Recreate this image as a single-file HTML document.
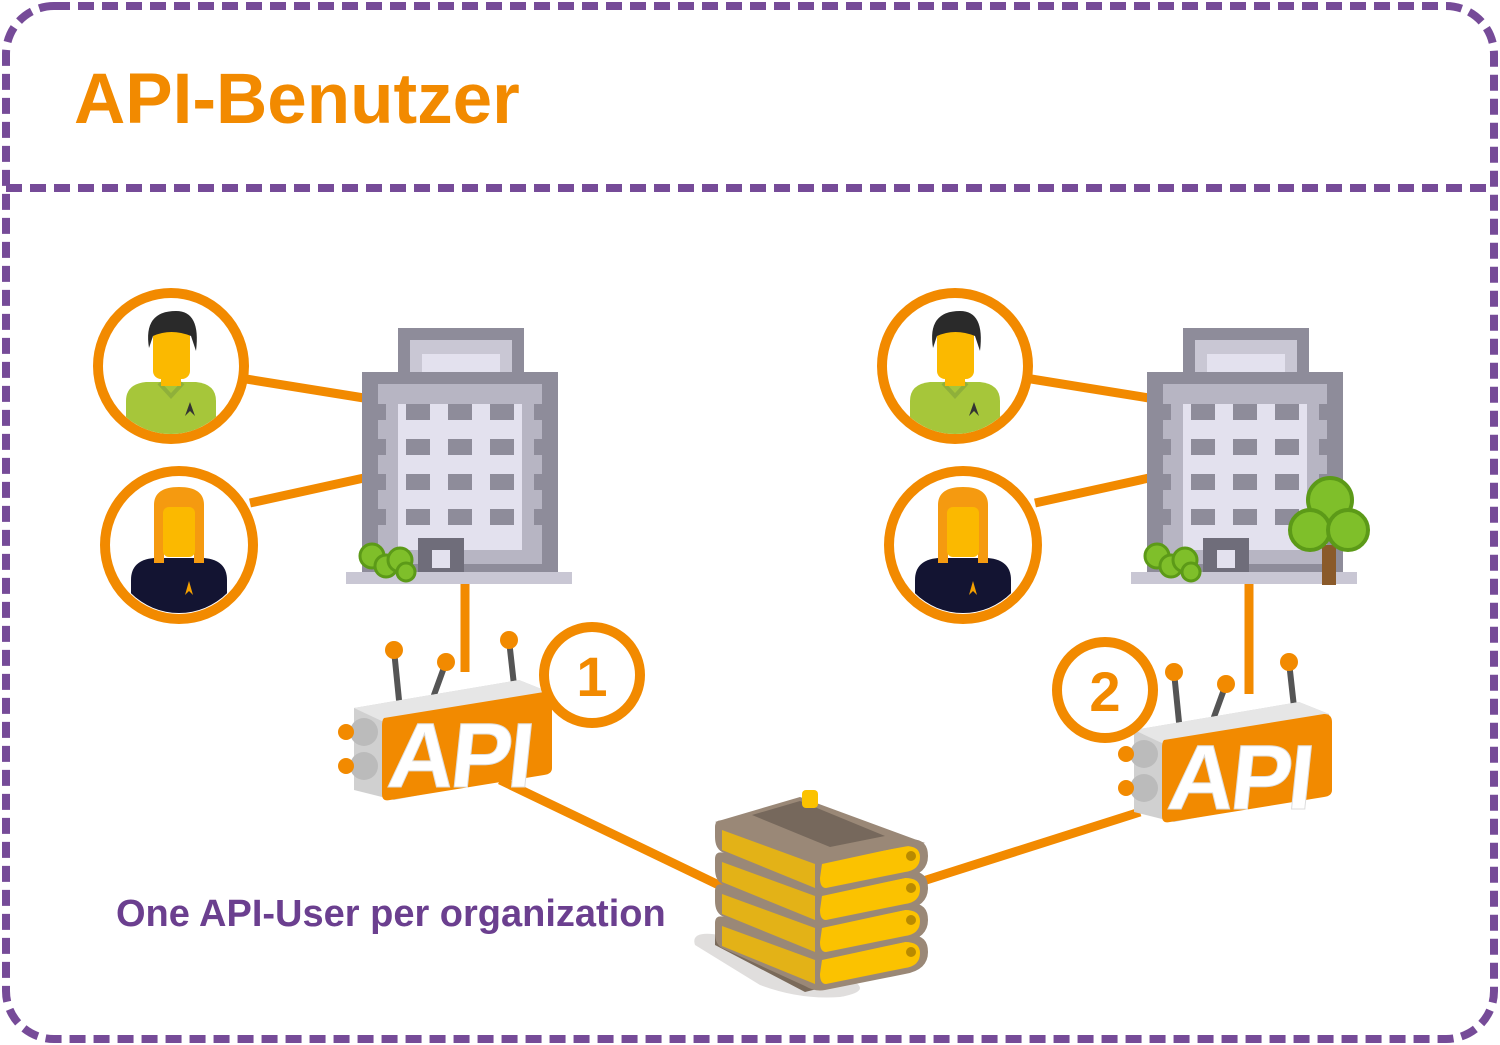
<!DOCTYPE html>
<html><head><meta charset="utf-8"><style>
html,body{margin:0;padding:0;background:#fff;width:1500px;height:1045px;overflow:hidden}
svg{display:block}
text{font-family:"Liberation Sans",sans-serif;font-weight:bold}
</style></head><body>
<svg width="1500" height="1045" viewBox="0 0 1500 1045" xmlns="http://www.w3.org/2000/svg">
<defs>
<clipPath id="cm"><circle cx="0" cy="0" r="68"/></clipPath>
<g id="male">
 <g clip-path="url(#cm)">
  <path d="M-45 75 L-45 35 Q-45 18 -25 16 L25 16 Q45 18 45 35 L45 75 Z" fill="#a6c63a"/>
  <path d="M-12 17 L0 30 L12 17" fill="none" stroke="#8fb03a" stroke-width="4"/>
  <path d="M14 50 L19 36 L24 50 L19 45 Z" fill="#333"/>
 </g>
 <rect x="-18" y="-45" width="37" height="58" rx="8" fill="#fbb900"/>
 <rect x="-10" y="8" width="20" height="12" fill="#fbb900"/>
 <path d="M-22 -18 Q-28 -55 5 -55 Q30 -55 25 -15 L20 -30 Q0 -38 -18 -30 Z" fill="#2a2a2a"/>
</g>
<g id="female">
 <g clip-path="url(#cm)">
  <path d="M-48 75 L-48 35 Q-48 15 -25 13 L25 13 Q48 15 48 35 L48 75 Z" fill="#131432"/>
  <path d="M6 50 L10 36 L14 50 L10 46 Z" fill="#f5a000"/>
 </g>
 <path d="M-25 18 L-25 -40 Q-25 -58 0 -58 Q25 -58 25 -40 L25 18 L15 18 L15 -30 L-15 -30 L-15 18 Z" fill="#f59a10"/>
 <rect x="-16" y="-38" width="32" height="50" rx="6" fill="#fbb900"/>
</g>
<g id="bldg">
 <rect x="36" y="0" width="126" height="46" fill="#8e8c9a"/>
 <rect x="48" y="12" width="102" height="34" fill="#c9c7d4"/>
 <rect x="60" y="26" width="78" height="20" fill="#e3e1ee"/>
 <rect x="0" y="44" width="196" height="212" fill="#8e8c9a"/>
 <rect x="16" y="56" width="164" height="180" fill="#b7b5c3"/>
 <rect x="36" y="76" width="124" height="146" fill="#e3e1ee"/>
 <g fill="#8e8c9a">
  <rect x="44" y="76" width="24" height="16"/><rect x="86" y="76" width="24" height="16"/><rect x="128" y="76" width="24" height="16"/>
  <rect x="44" y="111" width="24" height="16"/><rect x="86" y="111" width="24" height="16"/><rect x="128" y="111" width="24" height="16"/>
  <rect x="44" y="146" width="24" height="16"/><rect x="86" y="146" width="24" height="16"/><rect x="128" y="146" width="24" height="16"/>
  <rect x="44" y="181" width="24" height="16"/><rect x="86" y="181" width="24" height="16"/><rect x="128" y="181" width="24" height="16"/>
  <rect x="0" y="76" width="24" height="16"/><rect x="172" y="76" width="24" height="16"/>
  <rect x="0" y="111" width="24" height="16"/><rect x="172" y="111" width="24" height="16"/>
  <rect x="0" y="146" width="24" height="16"/><rect x="172" y="146" width="24" height="16"/>
  <rect x="0" y="181" width="24" height="16"/><rect x="172" y="181" width="24" height="16"/>
 </g>
 <rect x="56" y="210" width="46" height="46" fill="#6f6d7a"/>
 <rect x="70" y="222" width="18" height="18" fill="#e3e1ee"/>
 <rect x="-16" y="244" width="226" height="12" fill="#c9c7d4"/>
 <g fill="#7fbf2a" stroke="#5c9a18" stroke-width="3">
  <circle cx="10" cy="228" r="12"/><circle cx="24" cy="238" r="11"/><circle cx="38" cy="232" r="12"/><circle cx="44" cy="244" r="9"/>
 </g>
</g>
<g id="api">
 <g stroke="#555" stroke-width="6" stroke-linecap="round">
  <line x1="65" y1="50" x2="60" y2="0"/><line x1="100" y1="45" x2="112" y2="12"/><line x1="180" y1="35" x2="175" y2="-10"/>
 </g>
 <g fill="#f28a00"><circle cx="60" cy="0" r="9"/><circle cx="112" cy="12" r="9"/><circle cx="175" cy="-10" r="9"/></g>
 <path d="M20 58 L185 30 L215 42 L215 120 L60 150 L20 140 Z" fill="#d0d0d0"/>
 <path d="M20 58 L185 30 L215 42 L50 72 Z" fill="#e6e6e6"/>
 <circle cx="30" cy="82" r="14" fill="#bbb"/><circle cx="30" cy="116" r="14" fill="#bbb"/>
 <circle cx="12" cy="82" r="8" fill="#f28a00"/><circle cx="12" cy="116" r="8" fill="#f28a00"/>
 <path d="M50 68 L210 42 Q218 42 218 50 L218 118 Q218 124 210 125 L56 150 Q48 152 48 144 L48 76 Q48 70 50 68 Z" fill="#f28a00"/>
 <text x="66" y="137" font-size="92" fill="#fff" transform="skewX(-6)" stroke="#ddd" stroke-width="1" style="letter-spacing:-4px">API</text>
</g>
<g id="book">
 <path d="M715 827 Q715 817 728 822 L820 858 L905 840 Q928 836 928 856 Q928 874 905 878 L825 894 Q815 896 805 890 L722 852 Q715 848 715 837 Z" fill="#9a8877"/>
 <path d="M722 830 L815 864 L815 888 L722 850 Z" fill="#e3b217"/>
 <path d="M822 864 L905 846 Q920 846 920 857 Q920 870 905 872 L826 888 Q820 888 820 878 Z" fill="#fbc200"/>
 <circle cx="911" cy="856" r="5" fill="#b88a00"/>
</g>
</defs>

<rect x="6" y="6" width="1488" height="1033" rx="48" fill="none" stroke="#764b98" stroke-width="8" stroke-dasharray="16 8"/>
<line x1="6" y1="188" x2="1494" y2="188" stroke="#764b98" stroke-width="8" stroke-dasharray="16 8"/>
<text x="74" y="123" font-size="71" fill="#f28a00">API-Benutzer</text>

<g stroke="#f28a00" stroke-width="9" fill="none">
 <line x1="240" y1="378" x2="364" y2="398"/>
 <line x1="250" y1="503" x2="364" y2="478"/>
 <line x1="465" y1="584" x2="465" y2="672"/>
 <line x1="1025" y1="378" x2="1149" y2="398"/>
 <line x1="1035" y1="503" x2="1149" y2="478"/>
 <line x1="1249" y1="584" x2="1249" y2="694"/>
 <line x1="500" y1="780" x2="725" y2="888"/>
 <line x1="920" y1="882" x2="1140" y2="812"/>
</g>

<circle cx="171" cy="366" r="73" fill="#fff" stroke="#f28a00" stroke-width="10"/>
<use href="#male" x="171" y="366"/>
<circle cx="179" cy="545" r="74" fill="#fff" stroke="#f28a00" stroke-width="10"/>
<use href="#female" x="179" y="545"/>
<use href="#bldg" x="362" y="328"/>
<use href="#api" x="334" y="650"/>
<circle cx="592" cy="675" r="48" fill="#fff" stroke="#f28a00" stroke-width="10"/>
<text x="592" y="696" font-size="56" fill="#f28a00" text-anchor="middle">1</text>

<circle cx="955" cy="366" r="73" fill="#fff" stroke="#f28a00" stroke-width="10"/>
<use href="#male" x="955" y="366"/>
<circle cx="963" cy="545" r="74" fill="#fff" stroke="#f28a00" stroke-width="10"/>
<use href="#female" x="963" y="545"/>
<use href="#bldg" x="1147" y="328"/>
<rect x="1322" y="545" width="14" height="40" fill="#8a5a2a"/>
<g fill="#7fbf2a" stroke="#5c9a18" stroke-width="4">
 <circle cx="1330" cy="500" r="22"/><circle cx="1310" cy="530" r="20"/><circle cx="1348" cy="530" r="20"/>
</g>
<use href="#api" x="1114" y="672"/>
<circle cx="1105" cy="690" r="48" fill="#fff" stroke="#f28a00" stroke-width="10"/>
<text x="1105" y="711" font-size="56" fill="#f28a00" text-anchor="middle">2</text>

<path d="M695 945 Q690 930 720 935 L840 975 Q880 990 840 997 Q800 1000 760 985 Z" fill="#e0dedd"/>
<path d="M715 945 L805 992 L925 962 L925 945 L805 975 L715 930 Z" fill="#7a6a5a"/>
<use href="#book" y="96"/>
<use href="#book" y="64"/>
<use href="#book" y="32"/>
<use href="#book" y="0"/>
<path d="M715 822 L800 797 L925 843 L820 862 Z" fill="#9a8877"/>
<path d="M752 815 L800 801 L885 836 L830 847 Z" fill="#76685c"/>
<rect x="802" y="790" width="16" height="18" rx="4" fill="#fbc200"/>

<text x="116" y="926" font-size="38" fill="#6b3f8f">One API-User per organization</text>
</svg>
</body></html>
